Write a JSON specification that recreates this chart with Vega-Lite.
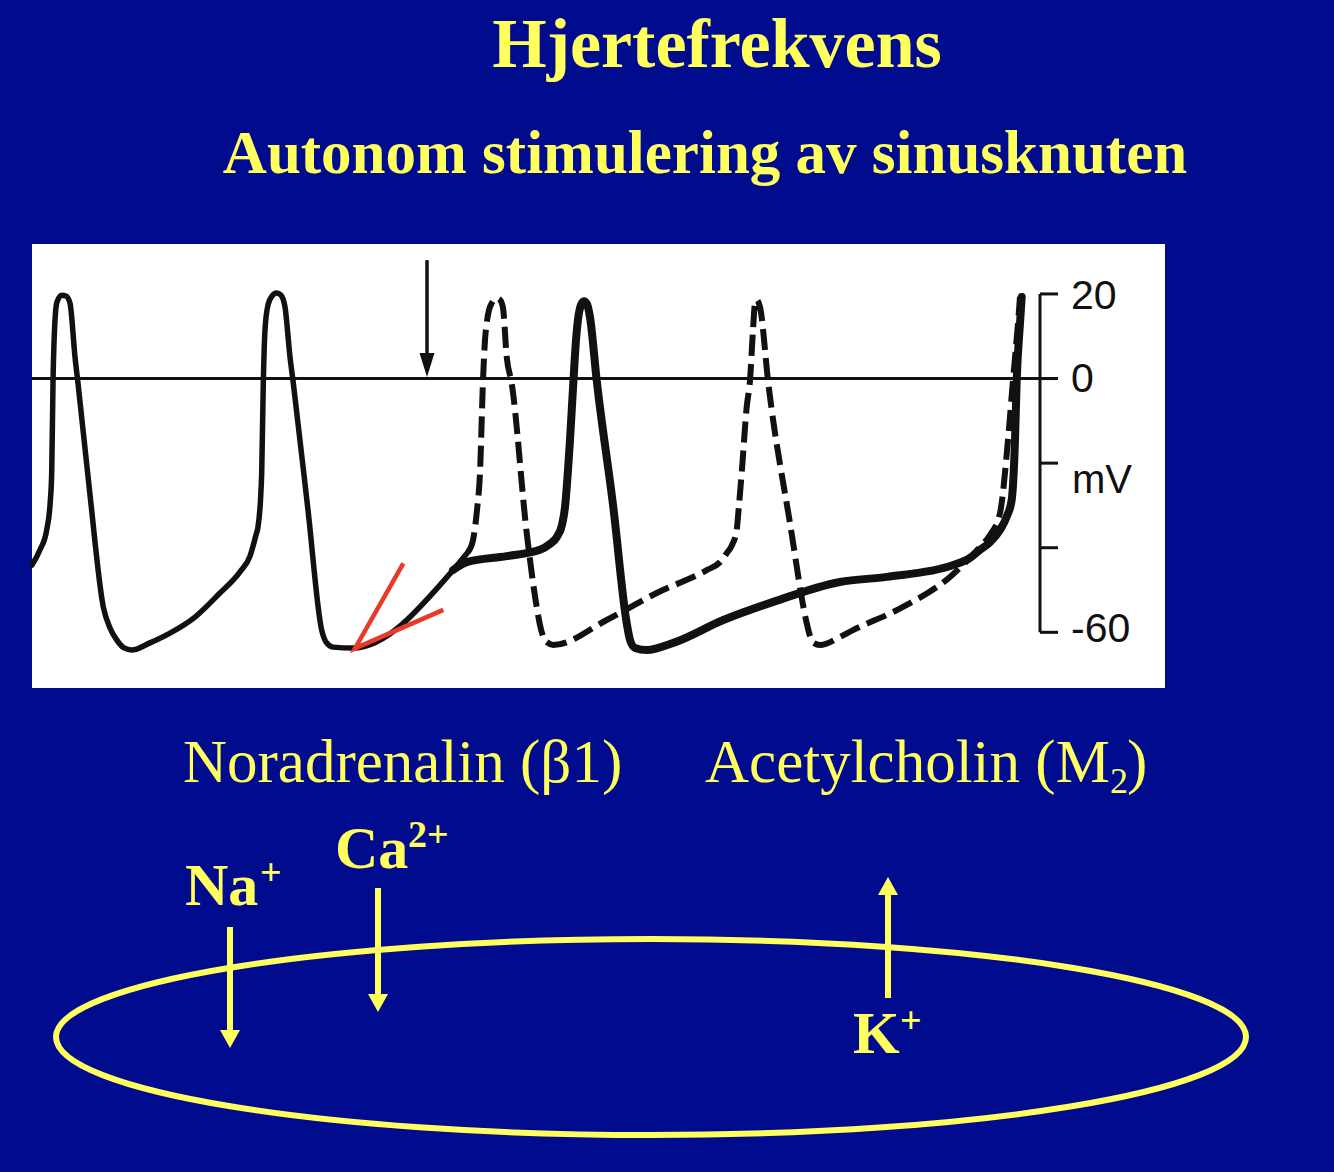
{
  "$schema": "https://vega.github.io/schema/vega-lite/v6.json",
  "width": 1334,
  "height": 1172,
  "autosize": "none",
  "padding": 0,
  "background": "#000b8e",
  "config": {"view": {"stroke": null}},
  "datasets": {
    "panel": [{"x": 32, "x2": 1165, "y": 244, "y2": 688}],
    "cell": [{"x": 651, "y": 1037}],
    "shafts": [
      {"ion": "Na+", "x": 230, "y": 927, "y2": 1032},
      {"ion": "Ca2+", "x": 378, "y": 888, "y2": 995},
      {"ion": "K+", "x": 888, "y": 998, "y2": 894}
    ],
    "headsDown": [{"ion": "Na+", "x": 230, "y": 1039}, {"ion": "Ca2+", "x": 378, "y": 1003}],
    "headsUp": [{"ion": "K+", "x": 888, "y": 886}],
    "title1": [{"x": 717, "y": 67, "label": "Hjertefrekvens"}],
    "title2": [{"x": 705, "y": 173, "label": "Autonom stimulering av sinusknuten"}],
    "receptors": [
      {"x": 183, "y": 782, "label": "Noradrenalin (β1)"},
      {"x": 705, "y": 782, "label": "Acetylcholin (M"},
      {"x": 1127, "y": 782, "label": ")"}
    ],
    "subscript": [{"x": 1110, "y": 793, "label": "2"}],
    "ions": [
      {"x": 185, "y": 905, "label": "Na"},
      {"x": 335, "y": 868, "label": "Ca"},
      {"x": 853, "y": 1053, "label": "K"}
    ],
    "superscripts": [
      {"x": 260, "y": 885, "label": "+"},
      {"x": 408, "y": 847, "label": "2+"},
      {"x": 900, "y": 1033, "label": "+"}
    ],
    "zero": [{"x": 32, "x2": 1058, "mV": 0}],
    "axisLine": [{"x": 1040, "mV": 20, "mV2": -60}],
    "axisTicks": [
      {"x": 1040, "x2": 1058, "mV": 20},
      {"x": 1040, "x2": 1058, "mV": 0},
      {"x": 1040, "x2": 1058, "mV": -20},
      {"x": 1040, "x2": 1058, "mV": -40},
      {"x": 1040, "x2": 1058, "mV": -60}
    ],
    "axisLabels": [
      {"x": 1071, "mV": 19.2, "label": "20"},
      {"x": 1071, "mV": -0.3, "label": "0"},
      {"x": 1071, "mV": -59.5, "label": "-60"}
    ],
    "stimArrow": [{"x": 427, "mV": 28.0, "mV2": 4.5}],
    "stimHead": [{"x": 427, "mV": 3.2}],
    "mVLabel": [{"x": 1072, "mV": -27.1, "label": "mV"}],
    "red": [
      {"i": 0, "x": 403.3, "mV": -43.7},
      {"i": 1, "x": 355, "mV": -63.8},
      {"i": 2, "x": 443.3, "mV": -54.7}
    ],
    "control": [
      {"x": 32, "mV": -44.1}, {"x": 40, "mV": -40.5}, {"x": 46.7, "mV": -35.8}, {"x": 50, "mV": -29.9},
      {"x": 51.7, "mV": -22.3}, {"x": 53, "mV": -1.1}, {"x": 55, "mV": 13.8}, {"x": 57, "mV": 18.1},
      {"x": 61.7, "mV": 19.7}, {"x": 66, "mV": 19.5}, {"x": 70, "mV": 17.8}, {"x": 75, "mV": 5.1},
      {"x": 78, "mV": -1.1}, {"x": 90, "mV": -27.5}, {"x": 103.3, "mV": -54.0}, {"x": 110, "mV": -59.0},
      {"x": 116.7, "mV": -61.8}, {"x": 124, "mV": -63.7}, {"x": 131.7, "mV": -64.2}, {"x": 150, "mV": -62.5},
      {"x": 170, "mV": -60.2}, {"x": 195, "mV": -56.4}, {"x": 220, "mV": -50.7}, {"x": 240, "mV": -45.7},
      {"x": 250, "mV": -42.0}, {"x": 256, "mV": -37.0}, {"x": 258, "mV": -35.1}, {"x": 260.5, "mV": -28.7},
      {"x": 261.7, "mV": -22.3}, {"x": 263.3, "mV": -1.1}, {"x": 265, "mV": 11.5}, {"x": 268, "mV": 17.4},
      {"x": 272, "mV": 19.5}, {"x": 276.7, "mV": 20.2}, {"x": 281, "mV": 19.7}, {"x": 285, "mV": 16.9},
      {"x": 290, "mV": 5.1}, {"x": 293.3, "mV": -1.1}, {"x": 308, "mV": -31.1}, {"x": 321.7, "mV": -59.5},
      {"x": 326, "mV": -62.3}, {"x": 333, "mV": -63.5}, {"x": 353, "mV": -63.7}, {"x": 453, "mV": -45.3},
      {"x": 468, "mV": -41.0}
    ],
    "ach": [
      {"x": 453, "mV": -45.3}, {"x": 466.7, "mV": -43.4}, {"x": 506.7, "mV": -42.0}, {"x": 540, "mV": -40.5},
      {"x": 550, "mV": -39.1}, {"x": 556.7, "mV": -37.5}, {"x": 562, "mV": -34.6}, {"x": 565, "mV": -30.4},
      {"x": 568, "mV": -21.6}, {"x": 570, "mV": -14.5}, {"x": 573.3, "mV": -1.1}, {"x": 576, "mV": 9.1},
      {"x": 578.3, "mV": 14.5}, {"x": 581, "mV": 17.4}, {"x": 584, "mV": 18.3}, {"x": 587, "mV": 17.6},
      {"x": 590, "mV": 14.5}, {"x": 596.7, "mV": -0.4}, {"x": 613.3, "mV": -30.4}, {"x": 626.7, "mV": -57.8},
      {"x": 630, "mV": -61.8}, {"x": 635, "mV": -63.7}, {"x": 646.7, "mV": -64.2}, {"x": 673.3, "mV": -62.5},
      {"x": 723.3, "mV": -57.1}, {"x": 773.3, "mV": -52.8}, {"x": 840, "mV": -48.1}, {"x": 886.7, "mV": -46.9},
      {"x": 953.3, "mV": -44.1}, {"x": 970, "mV": -42.4}, {"x": 980, "mV": -40.5}, {"x": 990, "mV": -38.7},
      {"x": 1000, "mV": -35.8}, {"x": 1007, "mV": -32.5}, {"x": 1011.7, "mV": -28.7}, {"x": 1015, "mV": -14.5},
      {"x": 1016.7, "mV": -0.4}, {"x": 1020, "mV": 13.1}, {"x": 1021.7, "mV": 19.3}
    ],
    "na": [
      {"x": 468, "mV": -41.0}, {"x": 473, "mV": -38.2}, {"x": 477, "mV": -31.1}, {"x": 480, "mV": -22.3},
      {"x": 483, "mV": -0.4}, {"x": 485, "mV": 9.1}, {"x": 486.7, "mV": 13.1}, {"x": 489, "mV": 16.2},
      {"x": 491.7, "mV": 17.8}, {"x": 496.7, "mV": 19.0}, {"x": 500, "mV": 18.6}, {"x": 503, "mV": 16.7},
      {"x": 506.7, "mV": 5.1}, {"x": 511.7, "mV": -1.1}, {"x": 526.7, "mV": -36.5}, {"x": 536.7, "mV": -54.0},
      {"x": 540, "mV": -58.3}, {"x": 543.3, "mV": -61.1}, {"x": 548, "mV": -62.5}, {"x": 553.3, "mV": -63.0},
      {"x": 606.7, "mV": -57.1}, {"x": 656.7, "mV": -50.7}, {"x": 706.7, "mV": -45.3}, {"x": 720, "mV": -43.4},
      {"x": 726.7, "mV": -41.3}, {"x": 732, "mV": -39.4}, {"x": 736.7, "mV": -35.8}, {"x": 739, "mV": -29.9},
      {"x": 741.7, "mV": -22.3}, {"x": 746.7, "mV": -6.7}, {"x": 750, "mV": -0.4}, {"x": 753, "mV": 11.5},
      {"x": 755, "mV": 17.8}, {"x": 756.7, "mV": 18.6}, {"x": 760, "mV": 16.9}, {"x": 768.3, "mV": -1.1},
      {"x": 790, "mV": -34.2}, {"x": 806.7, "mV": -57.8}, {"x": 810, "mV": -60.9}, {"x": 813.3, "mV": -62.5},
      {"x": 820, "mV": -63.0}, {"x": 840, "mV": -61.1}, {"x": 853, "mV": -59.5}, {"x": 903, "mV": -54.0},
      {"x": 950, "mV": -46.9}, {"x": 980, "mV": -39.8}, {"x": 990, "mV": -37.0}, {"x": 1000, "mV": -31.8},
      {"x": 1008, "mV": -14.5}, {"x": 1013, "mV": -0.4}, {"x": 1018, "mV": 13.1}, {"x": 1020, "mV": 19.3}
    ]
  },
  "layer": [
    {
      "encoding": {
        "x": {"field": "x", "type": "quantitative", "scale": {"domain": [0, 1334], "nice": false, "zero": false}, "axis": null},
        "y": {"field": "y", "type": "quantitative", "scale": {"domain": [0, 1172], "reverse": true, "nice": false, "zero": false}, "axis": null}
      },
      "layer": [
        {
          "data": {"name": "panel"},
          "mark": {"type": "rect", "fill": "#ffffff"},
          "encoding": {"x2": {"field": "x2"}, "y2": {"field": "y2"}}
        },
        {
          "data": {"name": "cell"},
          "mark": {"type": "point", "shape": "M-1,0A1,0.1647,0,1,1,1,0A1,0.1647,0,1,1,-1,0Z", "size": 1416100, "filled": false, "stroke": "#ffff5e", "strokeWidth": 6, "opacity": 1}
        },
        {
          "data": {"name": "shafts"},
          "mark": {"type": "rule", "color": "#ffff5e", "strokeWidth": 6},
          "encoding": {"y2": {"field": "y2"}}
        },
        {
          "data": {"name": "headsDown"},
          "mark": {"type": "point", "shape": "M-1,-0.9L1,-0.9L0,0.9Z", "size": 400, "filled": true, "color": "#ffff5e", "opacity": 1}
        },
        {
          "data": {"name": "headsUp"},
          "mark": {"type": "point", "shape": "M-1,0.9L1,0.9L0,-0.9Z", "size": 400, "filled": true, "color": "#ffff5e", "opacity": 1}
        },
        {
          "data": {"name": "title1"},
          "mark": {"type": "text", "font": "Liberation Serif", "fontSize": 70, "fontWeight": "bold", "color": "#ffff5e", "align": "center", "baseline": "alphabetic"},
          "encoding": {"text": {"field": "label"}}
        },
        {
          "data": {"name": "title2"},
          "mark": {"type": "text", "font": "Liberation Serif", "fontSize": 61, "fontWeight": "bold", "color": "#ffff5e", "align": "center", "baseline": "alphabetic"},
          "encoding": {"text": {"field": "label"}}
        },
        {
          "data": {"name": "receptors"},
          "mark": {"type": "text", "font": "Liberation Serif", "fontSize": 61, "color": "#ffff5e", "align": "left", "baseline": "alphabetic"},
          "encoding": {"text": {"field": "label"}}
        },
        {
          "data": {"name": "subscript"},
          "mark": {"type": "text", "font": "Liberation Serif", "fontSize": 36, "color": "#ffff5e", "align": "left", "baseline": "alphabetic"},
          "encoding": {"text": {"field": "label"}}
        },
        {
          "data": {"name": "ions"},
          "mark": {"type": "text", "font": "Liberation Serif", "fontSize": 60, "fontWeight": "bold", "color": "#ffff5e", "align": "left", "baseline": "alphabetic"},
          "encoding": {"text": {"field": "label"}}
        },
        {
          "data": {"name": "superscripts"},
          "mark": {"type": "text", "font": "Liberation Serif", "fontSize": 38, "fontWeight": "bold", "color": "#ffff5e", "align": "left", "baseline": "alphabetic"},
          "encoding": {"text": {"field": "label"}}
        }
      ]
    },
    {
      "encoding": {
        "x": {"field": "x", "type": "quantitative", "scale": {"domain": [0, 1334], "nice": false, "zero": false}, "axis": null},
        "y": {"field": "mV", "type": "quantitative", "scale": {"domain": [-187.6, 89.5], "nice": false, "zero": false}, "axis": null}
      },
      "layer": [
        {
          "data": {"name": "zero"},
          "mark": {"type": "rule", "color": "#111111", "strokeWidth": 3},
          "encoding": {"x2": {"field": "x2"}}
        },
        {
          "data": {"name": "axisLine"},
          "mark": {"type": "rule", "color": "#111111", "strokeWidth": 3},
          "encoding": {"y2": {"field": "mV2"}}
        },
        {
          "data": {"name": "axisTicks"},
          "mark": {"type": "rule", "color": "#111111", "strokeWidth": 3},
          "encoding": {"x2": {"field": "x2"}}
        },
        {
          "data": {"name": "axisLabels"},
          "mark": {"type": "text", "font": "Liberation Sans", "fontSize": 41, "color": "#111111", "align": "left", "baseline": "middle"},
          "encoding": {"text": {"field": "label"}}
        },
        {
          "data": {"name": "stimArrow"},
          "mark": {"type": "rule", "color": "#111111", "strokeWidth": 3.5},
          "encoding": {"y2": {"field": "mV2"}}
        },
        {
          "data": {"name": "stimHead"},
          "mark": {"type": "point", "shape": "M-0.625,-1L0.625,-1L0,1Z", "size": 576, "filled": true, "color": "#111111", "opacity": 1}
        },
        {
          "data": {"name": "mVLabel"},
          "mark": {"type": "text", "font": "Liberation Sans", "fontSize": 40, "color": "#111111", "align": "left", "baseline": "alphabetic"},
          "encoding": {"text": {"field": "label"}}
        },
        {
          "data": {"name": "control"},
          "mark": {"type": "line", "color": "#111111", "strokeWidth": 5.5, "interpolate": "monotone", "strokeJoin": "round", "strokeCap": "round"}
        },
        {
          "data": {"name": "na"},
          "mark": {"type": "line", "color": "#111111", "strokeWidth": 6, "interpolate": "monotone", "strokeDash": [21, 8]}
        },
        {
          "data": {"name": "ach"},
          "mark": {"type": "line", "color": "#111111", "strokeWidth": 8, "interpolate": "monotone", "strokeJoin": "round", "strokeCap": "round"}
        },
        {
          "data": {"name": "red"},
          "mark": {"type": "line", "color": "#e8392b", "strokeWidth": 4.5, "interpolate": "linear"},
          "encoding": {"order": {"field": "i"}}
        }
      ]
    }
  ],
  "resolve": {"scale": {"y": "independent"}}
}
